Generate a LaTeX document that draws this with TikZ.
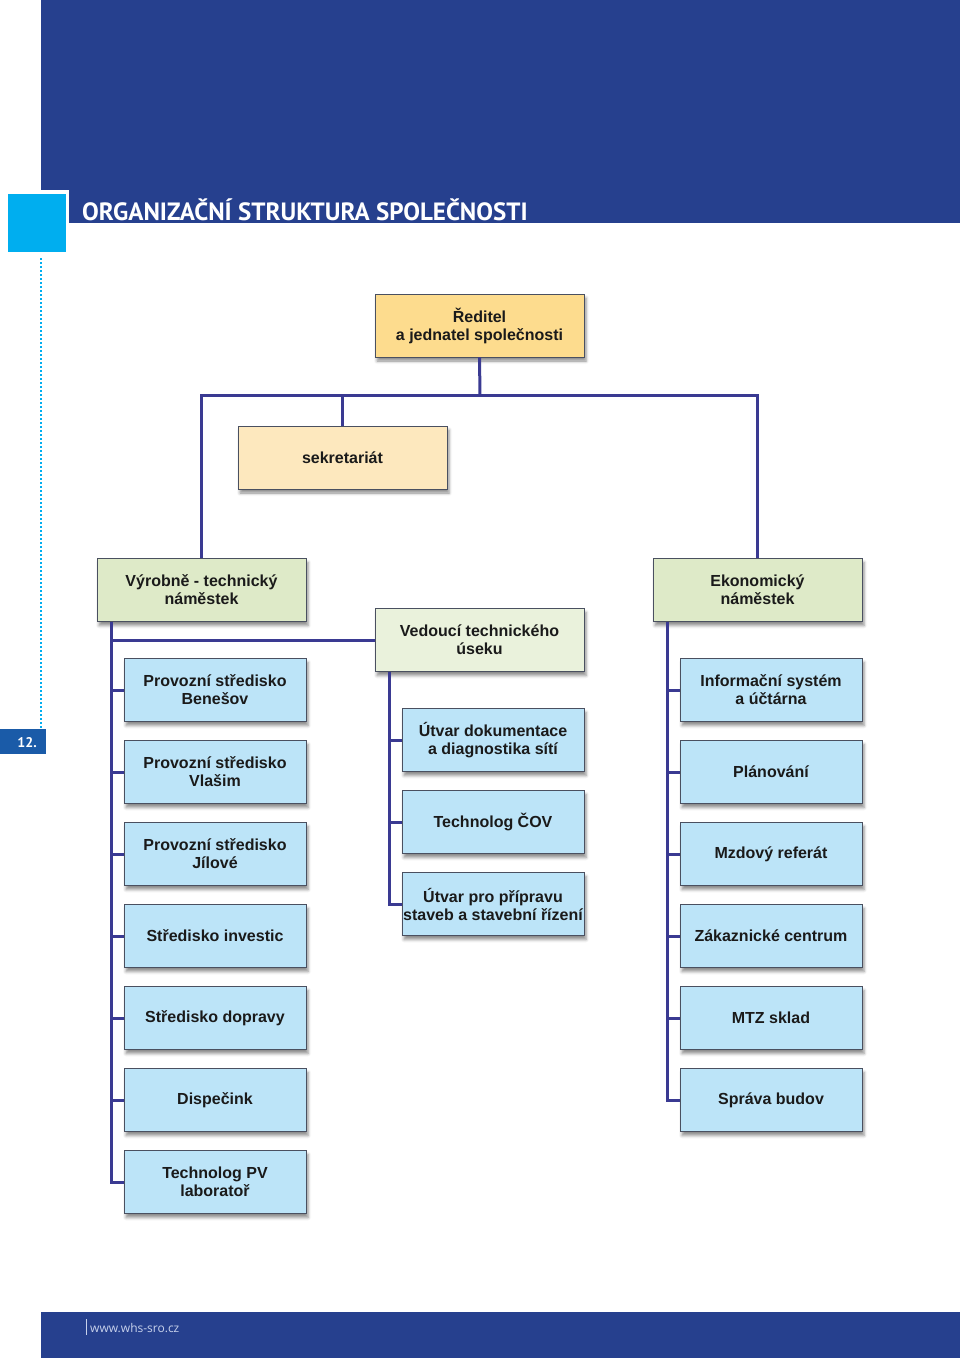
\documentclass[tikz,border=0pt]{standalone}
\usepackage{fontspec}
\setmainfont{Liberation Sans}
\newfontfamily\titlefont{PT Sans}
\newfontfamily\footfont{Open Sans}
\usetikzlibrary{shadows.blur}
\definecolor{bandc}{HTML}{26408E}
\definecolor{cyanc}{HTML}{00AEEF}
\definecolor{tagc}{HTML}{1A5BA8}
\definecolor{dirc}{HTML}{FDDC8E}
\definecolor{sekc}{HTML}{FDE8BE}
\definecolor{greenc}{HTML}{DEEAC8}
\definecolor{lgreenc}{HTML}{EAF2DC}
\definecolor{bluec}{HTML}{BCE4F8}
\definecolor{linec}{HTML}{3A3A92}
\definecolor{borderc}{HTML}{4A5060}
\definecolor{textc}{HTML}{1A1A1A}
\definecolor{footc}{HTML}{C8D2EC}
\tikzset{
  box/.style={draw=borderc, line width=0.8pt, text=textc, align=center, inner sep=0pt,
    font=\bfseries\fontsize{16}{18}\selectfont,
    blur shadow={shadow xshift=2pt, shadow yshift=-4pt, shadow blur radius=3pt, shadow opacity=45}},
  bigbox/.style={box, minimum width=209pt, minimum height=63pt},
  smallbox/.style={box, fill=bluec, minimum width=182pt, minimum height=63pt},
  conn/.style={draw=linec, line width=3pt, line cap=butt, line join=miter}
}
\begin{document}
\begin{tikzpicture}[x=1pt,y=-1pt]
\useasboundingbox (0,0) rectangle (960,1358);
% header
\fill[bandc] (41,0) rectangle (960,223);
\fill[white] (4,190) rectangle (69,256);
\fill[cyanc] (8,194) rectangle (66,252);
\node[anchor=base west, inner sep=0pt, text=white, font=\titlefont\bfseries\fontsize{25}{28}\selectfont] (title) at (82,220) {ORGANIZAČNÍ STRUKTURA SPOLEČNOSTI};
\draw[cyanc, line width=1.3pt, dash pattern=on 1.5pt off 2.5pt] (41,258) -- (41,728);
\fill[tagc] (0,729) rectangle (46,754);
\node[anchor=base east, inner sep=0pt, text=white, font=\titlefont\bfseries\fontsize{14}{16}\selectfont] (tag) at (37,747) {12.};
% footer
\fill[bandc] (41,1312) rectangle (960,1358);
\draw[footc, line width=0.6pt] (86,1319) -- (86,1335);
\node[anchor=base west, inner sep=0pt, text=footc, font=\footfont\fontsize{12}{14}\selectfont] (web) at (90,1332) {www.whs-sro.cz};
% boxes
\node[bigbox, fill=dirc] (dir) at (479.5,325.5) {Ředitel\\a jednatel společnosti};
\node[bigbox, fill=sekc] (sek) at (342.5,457.5) {sekretariát};
\node[bigbox, fill=greenc] (vyr) at (201.5,590) {Výrobně - technický\\náměstek};
\node[bigbox, fill=greenc] (eko) at (757.5,590) {Ekonomický\\náměstek};
\node[bigbox, fill=lgreenc] (ved) at (479.5,640) {Vedoucí technického\\úseku};
% left column
\node[smallbox] (l1) at (215,690) {Provozní středisko\\Benešov};
\node[smallbox] (l2) at (215,772) {Provozní středisko\\Vlašim};
\node[smallbox] (l3) at (215,854) {Provozní středisko\\Jílové};
\node[smallbox] (l4) at (215,936) {Středisko investic};
\node[smallbox] (l5) at (215,1018) {Středisko dopravy};
\node[smallbox] (l6) at (215,1100) {Dispečink};
\node[smallbox] (l7) at (215,1182) {Technolog PV\\laboratoř};
% middle column
\node[smallbox] (m1) at (493,740) {Útvar dokumentace\\a diagnostika sítí};
\node[smallbox] (m2) at (493,822) {Technolog ČOV};
\node[smallbox] (m3) at (493,904) {Útvar pro přípravu\\staveb a stavební řízení};
% right column
\node[smallbox] (r1) at (771,690) {Informační systém\\a účtárna};
\node[smallbox] (r2) at (771,772) {Plánování};
\node[smallbox] (r3) at (771,854) {Mzdový referát};
\node[smallbox] (r4) at (771,936) {Zákaznické centrum};
\node[smallbox] (r5) at (771,1018) {MTZ sklad};
\node[smallbox] (r6) at (771,1100) {Správa budov};
% connectors
\coordinate (j1) at (480,395);
\coordinate (lt) at (111,622);
\coordinate (mt) at (389,672);
\coordinate (rt) at (667,622);
\draw[conn] (dir.south) -- (j1);
\draw[conn] (vyr.north) -- (vyr.north |- j1) -- (eko.north |- j1) -- (eko.north);
\draw[conn] (sek.north) -- (sek.north |- j1);
\draw[conn] (lt) |- (l7.west);
\foreach \n in {l1,l2,l3,l4,l5,l6} \draw[conn] (lt |- \n.west) -- (\n.west);
\draw[conn] (lt |- ved.west) -- (ved.west);
\draw[conn] (mt) |- (m3.west);
\foreach \n in {m1,m2} \draw[conn] (mt |- \n.west) -- (\n.west);
\draw[conn] (rt) |- (r6.west);
\foreach \n in {r1,r2,r3,r4,r5} \draw[conn] (rt |- \n.west) -- (\n.west);
\end{tikzpicture}
\end{document}
